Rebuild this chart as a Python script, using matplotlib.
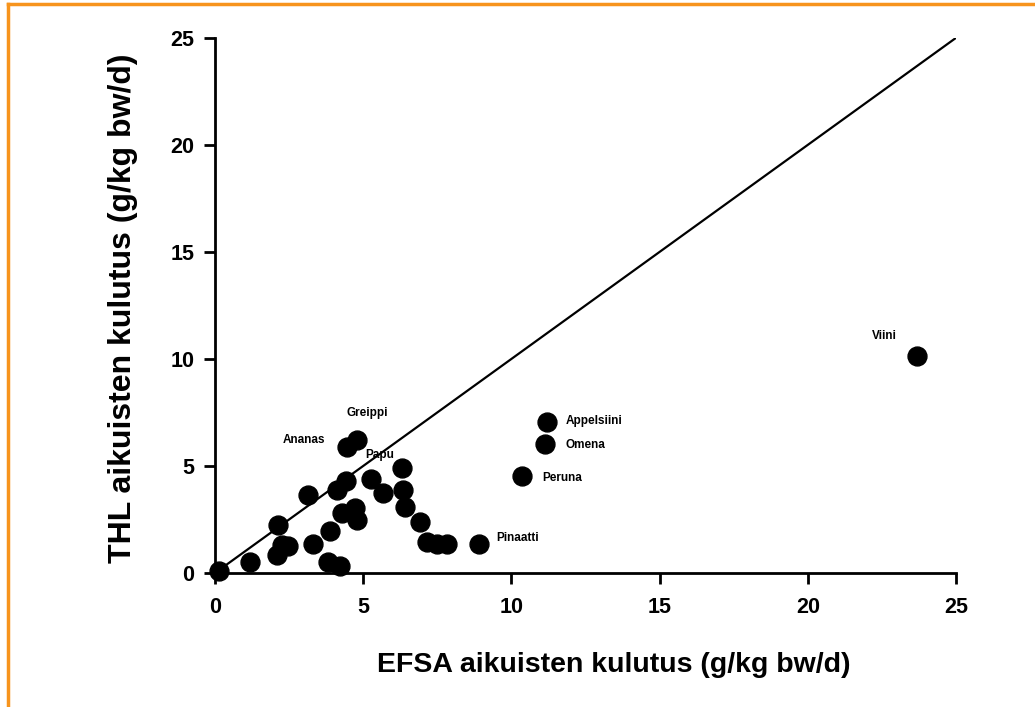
import matplotlib
matplotlib.use("Agg")
import matplotlib.pyplot as plt
from matplotlib.lines import Line2D

plt.rcParams['font.family'] = ['Liberation Sans', 'DejaVu Sans']

# EFSA (x) vs THL (y) consumption, g/kg bw/d
efsa = [0.15, 1.18, 2.14, 2.25, 2.45, 2.08, 3.15, 3.32, 3.88, 3.82, 4.22,
        4.1, 4.41, 4.27, 4.72, 4.78, 4.44, 4.78, 5.25, 5.66, 6.3, 6.33,
        6.41, 6.9, 7.14, 7.48, 7.82, 8.92, 10.35, 11.13, 11.19, 23.68]
thl = [0.1, 0.53, 2.24, 1.31, 1.25, 0.84, 3.64, 1.36, 1.98, 0.53, 0.34,
       3.88, 4.3, 2.79, 3.02, 2.48, 5.9, 6.21, 4.39, 3.72, 4.89, 3.88,
       3.1, 2.4, 1.46, 1.36, 1.36, 1.36, 4.53, 6.01, 7.07, 10.14]

labels = ['Greippi', 'Ananas', 'Papu', 'Appelsiini', 'Omena', 'Peruna', 'Pinaatti', 'Viini']
label_x = [5.13, 3.0, 5.57, 11.84, 11.84, 11.03, 9.5, 22.57]
label_y = [7.48, 6.2, 5.5, 7.1, 6.0, 4.45, 1.65, 11.07]
label_ha = ['center', 'center', 'center', 'left', 'left', 'left', 'left', 'center']

fig = plt.figure(figsize=(10.35, 7.07), dpi=100)
ax = fig.add_axes([0.2077, 0.1895, 0.716, 0.757])

# 1:1 line
ax.plot([0, 25], [0, 25], color='black', lw=1.6, zorder=2)
ax.scatter(efsa, thl, s=185, color='black', zorder=3, clip_on=False)

for t, x, y, ha in zip(labels, label_x, label_y, label_ha):
    ax.text(x, y, t, fontsize=8.5, fontweight='bold', ha=ha, va='center')

ax.set_xlim(0, 25)
ax.set_ylim(0, 25)
ax.set_xticks([0, 5, 10, 15, 20, 25])
ax.set_yticks([0, 5, 10, 15, 20, 25])
for s in ['top', 'right']:
    ax.spines[s].set_visible(False)
for s in ['left', 'bottom']:
    ax.spines[s].set_linewidth(2)
ax.tick_params(width=2, length=8, labelsize=15.5)
ax.tick_params(axis='x', pad=9)
ax.tick_params(axis='y', pad=7)
for lbl in ax.get_xticklabels() + ax.get_yticklabels():
    lbl.set_fontweight('bold')

ax.set_xlabel('EFSA aikuisten kulutus (g/kg bw/d)', fontsize=20.5, fontweight='bold', labelpad=25, x=0.538)
ax.set_ylabel('THL aikuisten kulutus (g/kg bw/d)', fontsize=23, fontweight='bold', labelpad=23, y=0.495)

# orange frame on top and left
fig.add_artist(Line2D([8 / 1035, 1], [1 - 4 / 707, 1 - 4 / 707], color='#F7941D', lw=2.5, transform=fig.transFigure))
fig.add_artist(Line2D([8 / 1035, 8 / 1035], [0, 1 - 4 / 707], color='#F7941D', lw=2.5, transform=fig.transFigure))

fig.savefig('out.png', dpi=100)
